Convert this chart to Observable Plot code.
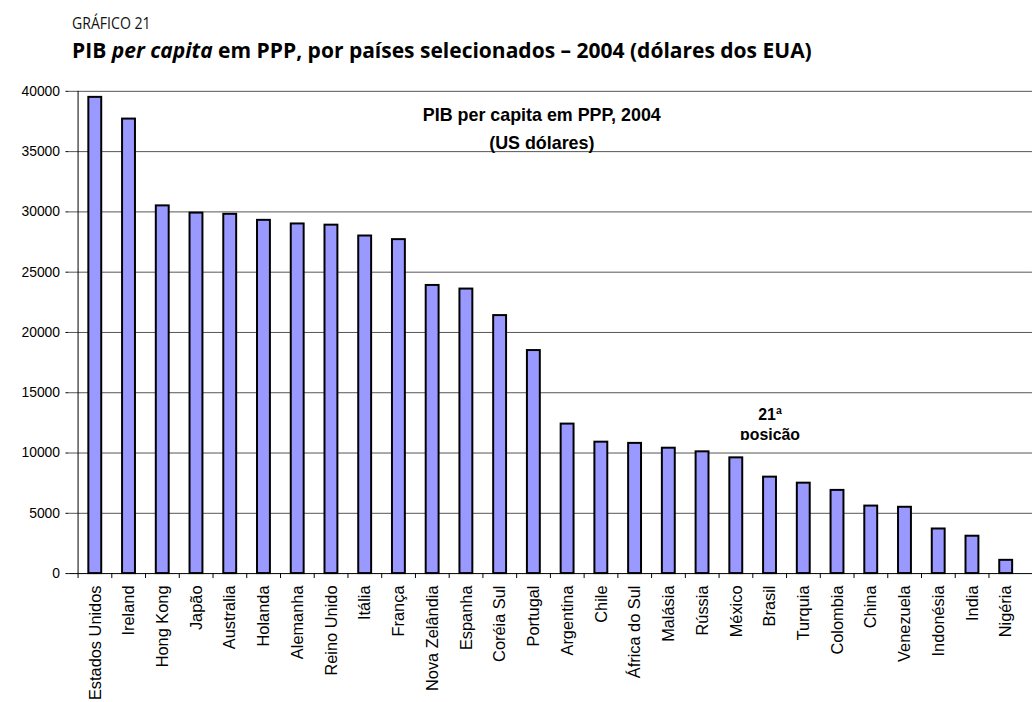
<!DOCTYPE html>
<html>
<head>
<meta charset="utf-8">
<script src="https://cdn.jsdelivr.net/npm/d3@7"></script>
<script src="https://cdn.jsdelivr.net/npm/@observablehq/plot@0.6"></script>
<style>
  html, body { margin: 0; padding: 0; background: #fff; overflow: hidden; width: 1032px; height: 702px; }
  #page { position: relative; width: 1032px; height: 702px; overflow: hidden; }
  .kicker { position: absolute; left: 72px; top: 15px; font-family: "Open Sans", "Noto Sans", sans-serif; font-size: 16px; line-height: 1; color: #111; white-space: nowrap; transform: scaleX(0.88); transform-origin: 0 0; }
  .title { position: absolute; left: 72px; top: 40px; font-family: "Open Sans", "Noto Sans", sans-serif; font-weight: 700; font-size: 21px; line-height: 1; color: #000; white-space: nowrap; }
  #chart { position: absolute; left: 0; top: 70px; }
</style>
</head>
<body>
<div id="page">
  <div class="kicker">GRÁFICO 21</div>
  <div class="title">PIB <i>per capita</i> em PPP, por países selecionados – 2004 (dólares dos EUA)</div>
  <div id="chart"></div>
</div>
<script>
// ---- data ----
const countries = ["Estados Unidos", "Ireland", "Hong Kong", "Japão", "Australia", "Holanda", "Alemanha", "Reino Unido", "Itália", "França", "Nova Zelândia", "Espanha", "Coréia Sul", "Portugal", "Argentina", "Chile", "África do Sul", "Malásia", "Rússia", "México", "Brasil", "Turquia", "Colombia", "China", "Venezuela", "Indonésia", "India", "Nigéria"];
const gdpPerCapita = [39500, 37700, 30500, 29900, 29800, 29300, 29000, 28900, 28000, 27700, 23900, 23600, 21400, 18500, 12400, 10900, 10800, 10400, 10100, 9600, 8000, 7500, 6900, 5600, 5500, 3700, 3100, 1100];
const yTicks = [0, 5000, 10000, 15000, 20000, 25000, 30000, 35000, 40000];
const innerTitle = ["PIB per capita em PPP, 2004", "(US dólares)"];
const annotationCountry = "Brasil";
const annotationValue = 13900;
const annotationLines = ["21ª", "posição"];

const data = countries.map((c, i) => ({country: c, value: gdpPerCapita[i]}));

// ---- layout ----
const W = 1040, H = 632, mL = 69, mR = 0, mT = 21, mB = 125;
const step = (W - mL - mR) / countries.length;

const chart = Plot.plot({
  width: W, height: H,
  marginLeft: mL, marginRight: mR, marginTop: mT, marginBottom: mB,
  style: {fontFamily: "'Liberation Sans', Arial, sans-serif", background: "transparent", color: "#000", overflow: "visible"},
  x: {domain: countries, paddingInner: 0.625, paddingOuter: 0.3125, label: null},
  y: {domain: [0, 40000], label: null},
  marks: [
    Plot.ruleY(yTicks.filter(d => d > 0), {stroke: "#555", strokeWidth: 1}),
    Plot.barY(data, {x: "country", y: "value", fill: "#9999ff", stroke: "#000", strokeWidth: 2}),
    Plot.ruleY([0], {stroke: "#000", strokeWidth: 1}),
    Plot.ruleX([countries[0]], {y1: 0, y2: 40000, dx: -step / 2, stroke: "#000", strokeWidth: 1}),
    Plot.axisY({ticks: yTicks, tickSize: 3, tickPadding: 6, fontSize: 14, label: null, tickFormat: d => String(d)}),
    Plot.axisX({tickSize: 5, tickFormat: () => "", dx: -step / 2, label: null}),
    Plot.axisX({tickSize: 0, tickPadding: 12, tickRotate: -90, fontSize: 16.5, label: null}),
    Plot.text([innerTitle.join("\n")], {frameAnchor: "top", lineAnchor: "top", dx: -9, dy: 10, lineHeight: 1.55, fontSize: 18, fontWeight: "bold", letterSpacing: -0.6}),
    Plot.text([annotationLines.join("\n")], {x: () => annotationCountry, y: () => annotationValue, lineAnchor: "top", lineHeight: 1.25, fontSize: 16, fontWeight: "bold", letterSpacing: -0.5})
  ]
});
document.getElementById("chart").appendChild(chart);

// clip bottom of the annotation text like the reference
d3.select(chart).selectAll("text").filter(function() { return this.textContent.includes("posição"); })
  .style("clip-path", "inset(0 0 3px 0)");
</script>
</body>
</html>
